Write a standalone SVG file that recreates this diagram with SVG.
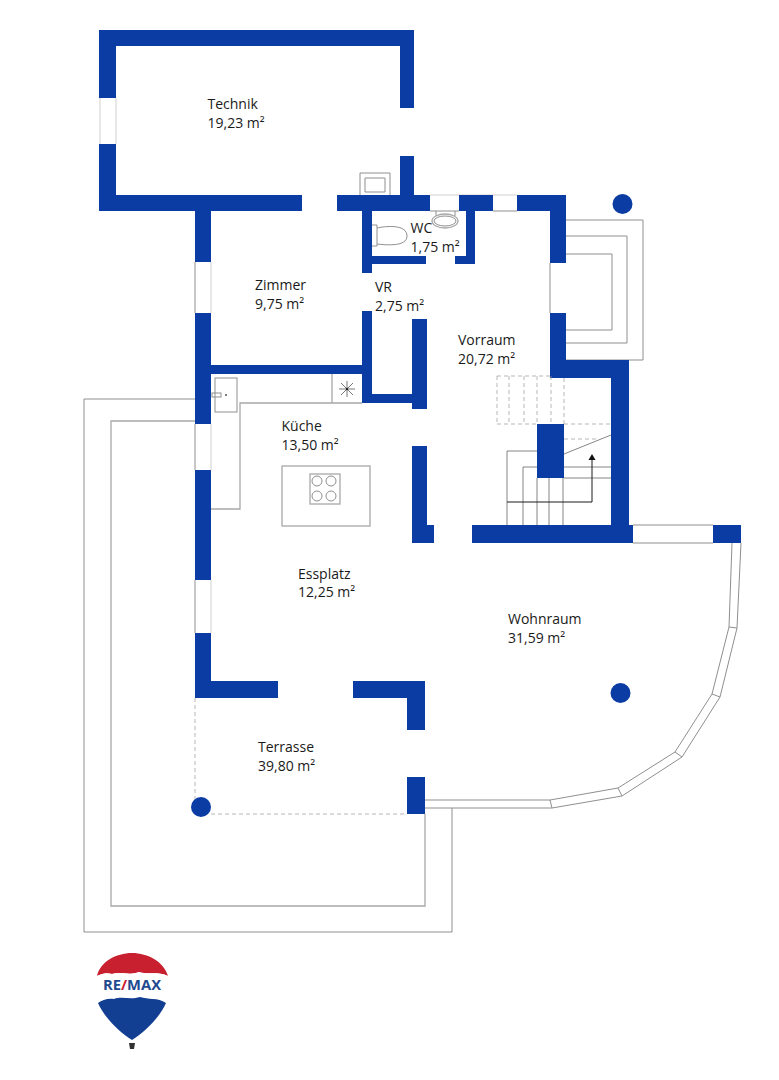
<svg xmlns="http://www.w3.org/2000/svg" width="779" height="1080" viewBox="0 0 779 1080">
<style>
.w{fill:#0a3ca4}
.l{fill:none;stroke:#8f8f8f;stroke-width:1}
.f{fill:none;stroke:#c4c4c4;stroke-width:.8}
.t{fill:none;stroke:#a8a8a8;stroke-width:1.3}
.d{fill:none;stroke:#9a9a9a;stroke-width:.7;stroke-dasharray:4 3}
.s{fill:none;stroke:#666;stroke-width:.8}
text{font-family:"Open Sans","Noto Sans","Liberation Sans",sans-serif;font-size:14px;fill:#1a1a1a}
</style>
<rect width="779" height="1080" fill="#fff"/>
<g id="terrace-edge">
<path class="l" d="M195 399H84V932H452V808"/>
<path class="t" d="M195 421H111V906H425V814"/>
<path class="d" d="M195 698V800M211 814H407"/>
</g>
<g id="windows">
<path class="f" d="M116 98V144M100 98V144M430 195H493M493 195H517M211 262V313M211 424V470M211 580V633"/>
<path class="l" d="M430 211H459M493 211H517M550 263V313M195 262V313M195 424V470M195 580V633M633 525H713M633 543H713"/>
</g>
<g id="bay-window">
<path class="l" d="M425 800H550L618 788L675 752L712 694L729 627L732 543M425 808H552L622 796L682 757L720 697L737 628L741 543M550 800L552 808M618 788L622 796M675 752L682 757M712 694L720 697M729 627L737 628"/>
</g>
<g id="chimney">
<path class="l" d="M566 220H643V360H566M566 236H627V343H566M566 254H612V330H566"/>
</g>
<g id="walls">
<path class="w" d="M99 30H414V108H400V46H116V98H99Z"/>
<path class="w" d="M99 144H116V195H302V211H211V262H195V211H99Z"/>
<rect class="w" x="400" y="156" width="14" height="39"/>
<path class="w" d="M337 195H430V211H372V256H426V264H372V273H362V211H337Z"/>
<path class="w" d="M459 195H493V211H475V264H455V256H466V211H459Z"/>
<path class="w" d="M517 195H566V263H550V211H517Z"/>
<path class="w" d="M550 313H566V360H629V525H633V543H472V525H611V378H550Z"/>
<rect class="w" x="713" y="525" width="28" height="18"/>
<path class="w" d="M412 319H427V409H412V403H362V374H211V424H195V313H211V365H362V311H372V394H412Z"/>
<path class="w" d="M412 446H427V525H434V543H412Z"/>
<rect class="w" x="537" y="424" width="27" height="54"/>
<rect class="w" x="195" y="470" width="16" height="110"/>
<path class="w" d="M195 633H211V681H278V698H195Z"/>
<path class="w" d="M353 681H425V730H407V698H353Z"/>
<rect class="w" x="407" y="777" width="18" height="37"/>
<circle class="w" cx="622.500" cy="204" r="10"/>
<circle class="w" cx="620.500" cy="693" r="10"/>
<circle class="w" cx="201" cy="807" r="10"/>
</g>
<g id="fixtures">
<path class="l" d="M360 195V173H390V195M365 178H385V192H365Z"/>
<path class="l" d="M372 225H377V246H372M377 228C386 226 407 224 407 236C407 247 386 245 377 244"/>
<path class="l" d="M436 211V216M455 211V216"/>
<ellipse class="t" cx="445" cy="221" rx="13" ry="7"/>
<ellipse class="l" cx="445" cy="221" rx="11" ry="5"/>
<path class="t" d="M211 509H240V403H362M332 374V403"/>
<rect class="l" x="215" y="378" width="22" height="34"/>
<rect class="l" x="212" y="393" width="9" height="4" fill="#fff"/>
<circle cx="226" cy="395" r="1" fill="#555"/>
<path d="M339 389H355M347 381V397M341 383L353 395M341 395L353 383" stroke="#555" stroke-width=".8" fill="none"/>
<circle cx="347" cy="389" r="1.200" fill="#222"/>
<rect class="t" x="282" y="466" width="88" height="60"/>
<rect class="t" x="310" y="474" width="30" height="30"/>
<g class="l"><circle cx="317" cy="481" r="5"/><circle cx="331" cy="481" r="5"/><circle cx="317" cy="496" r="5"/><circle cx="331" cy="496" r="5"/></g>
</g>
<g id="stairs">
<path class="d" d="M497 376H550M497 424H537M564 424H611M497 376V424M509 376V424M524 376V424M537 376V424M551 376V424M564 378V424M564 439H596"/>
<path class="s" d="M564 454L611 435M507 525V451H537M523 525V467H537M564 467H611M564 478H611M537 478V525M549 478V525M563 478V525"/>
<path d="M507 502H592V458" fill="none" stroke="#1a1a1a" stroke-width="1"/>
<path d="M592 454L595.500 460H588.500Z" fill="#111"/>
</g>
<g id="labels">
<text x="207.500" y="109">Technik</text><text x="207.500" y="128">19,23 m²</text>
<text x="255" y="290">Zimmer</text><text x="255" y="309">9,75 m²</text>
<text x="410.500" y="232.500">WC</text><text x="410.500" y="251.500">1,75 m²</text>
<text x="375" y="291.500">VR</text><text x="375" y="310.500">2,75 m²</text>
<text x="458" y="345">Vorraum</text><text x="458" y="364">20,72 m²</text>
<text x="281.500" y="431">Küche</text><text x="281.500" y="450">13,50 m²</text>
<text x="298" y="579">Essplatz</text><text x="298" y="597">12,25 m²</text>
<text x="508" y="624">Wohnraum</text><text x="508" y="643">31,59 m²</text>
<text x="258" y="752">Terrasse</text><text x="258" y="771">39,80 m²</text>
</g>
<g id="logo">
<path d="M97 976C100 962 116 953 132 953C148 953 164 962 168 976C158 971 148 975 139 972C130 976 120 971 112 974C106 972 101 974 97 976Z" fill="#c8202f"/>
<path d="M97 976C101 974 106 972 112 974C120 971 130 976 139 972C148 975 158 971 168 976C170 985 169 995 166 1003C158 997 148 1000 140 997C130 1000 122 996 114 999C108 998 102 1000 98 1003C95 995 95 985 97 976Z" fill="#fff"/>
<path d="M98 1003C102 1000 108 998 114 999C122 996 130 1000 140 997C148 1000 158 997 166 1003C160 1017 145 1032 132 1040C119 1032 104 1017 98 1003Z" fill="#133f93"/>
<path d="M129 1043H135L134 1049H130Z" fill="#333"/>
<text x="103" y="990" textLength="58" lengthAdjust="spacingAndGlyphs" style="font-family:'Open Sans','Liberation Sans',sans-serif;font-size:15px;font-weight:700;fill:#1f4a8f">RE<tspan fill="#c8202f">/</tspan>MAX</text>
</g>
</svg>
